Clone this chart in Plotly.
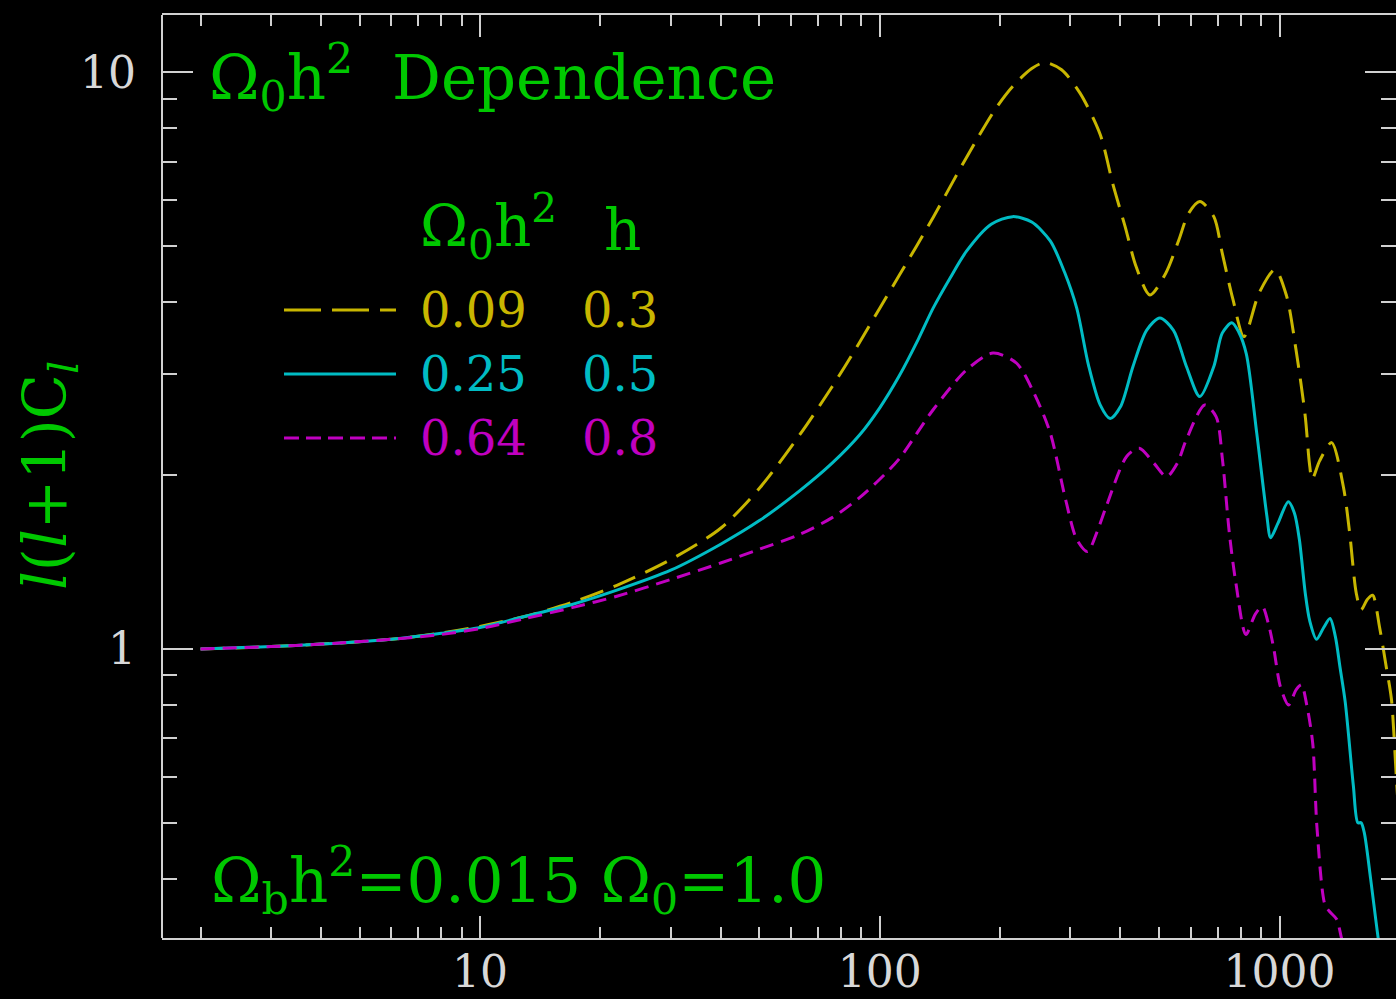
import plotly.graph_objects as go

# ---------------- data ----------------
l_yellow = [2, 3, 4, 6, 8, 10, 13, 17, 22, 30, 40, 50, 63, 76, 89, 100, 112, 136, 155, 174,
            195, 215, 240, 259, 285, 317, 356, 383, 411, 438, 474, 519, 560, 592, 632, 685,
            719, 764, 815, 890, 975, 1041, 1100, 1160, 1188, 1207, 1260, 1350, 1445, 1498,
            1556, 1600, 1660, 1710, 1780, 1850, 1905, 1960, 2000]
c_yellow = [1.0, 1.01, 1.02, 1.04, 1.066, 1.095, 1.14, 1.205, 1.29, 1.43, 1.62, 1.9, 2.35, 2.85,
            3.4, 3.9, 4.45, 5.6, 6.6, 7.6, 8.65, 9.45, 10.15, 10.4, 10.1, 9.2, 7.8, 6.4, 5.4,
            4.6, 4.11, 4.48, 5.12, 5.69, 5.97, 5.62, 4.86, 4.05, 3.48, 4.15, 4.55, 4.1, 3.3,
            2.53, 2.1, 1.97, 2.12, 2.28, 1.91, 1.59, 1.25, 1.17, 1.22, 1.24, 1.09, 0.93, 0.82,
            0.6, 0.48]

l_cyan = [2, 3, 4, 6, 8, 10, 13, 17, 22, 30, 40, 50, 63, 76, 89, 100, 112, 125, 136, 150, 165,
          190, 215, 240, 267, 290, 311, 333, 356, 377, 400, 430, 465, 502, 543, 585, 632, 685,
          719, 760, 790, 826, 877, 930, 950, 990, 1052, 1090, 1121, 1160, 1190, 1238, 1290,
          1338, 1380, 1417, 1460, 1530, 1570, 1600, 1630, 1690, 1766, 1800]
c_cyan = [1.0, 1.01, 1.02, 1.04, 1.065, 1.09, 1.14, 1.195, 1.265, 1.37, 1.52, 1.67, 1.88, 2.1,
          2.35, 2.62, 2.98, 3.45, 3.9, 4.4, 4.9, 5.45, 5.62, 5.5, 5.1, 4.5, 3.9, 3.1, 2.65,
          2.51, 2.63, 3.09, 3.57, 3.75, 3.57, 3.09, 2.74, 3.09, 3.53, 3.68, 3.55, 3.25, 2.37,
          1.70, 1.56, 1.65, 1.80, 1.72, 1.55, 1.25, 1.12, 1.04, 1.09, 1.13, 1.05, 0.93, 0.81,
          0.58, 0.50, 0.50, 0.48, 0.40, 0.315, 0.29]

l_magenta = [2, 3, 4, 6, 8, 10, 13, 17, 22, 30, 40, 50, 63, 76, 89, 100, 112, 136, 165, 192,
             220, 243, 267, 292, 311, 331, 350, 369, 415, 446, 485, 522, 555, 585, 650, 694,
             720, 749, 778, 824, 870, 906, 940, 968, 1005, 1054, 1100, 1135, 1170, 1211, 1241,
             1300, 1338, 1390, 1430, 1460]
c_magenta = [1.0, 1.01, 1.02, 1.04, 1.06, 1.085, 1.13, 1.18, 1.235, 1.32, 1.41, 1.49, 1.58,
             1.69, 1.83, 1.97, 2.14, 2.6, 3.05, 3.26, 3.13, 2.78, 2.37, 1.81, 1.55, 1.476, 1.6,
             1.77, 2.16, 2.23, 2.1, 1.99, 2.1, 2.31, 2.65, 2.53, 2.13, 1.59, 1.30, 1.06, 1.15,
             1.185, 1.1, 1.0, 0.861, 0.80, 0.85, 0.867, 0.80, 0.686, 0.49, 0.36, 0.35, 0.34,
             0.315, 0.30]

series_om = ["0.09", "0.25", "0.64"]
series_h = ["0.3", "0.5", "0.8"]

x_major = [10, 100, 1000]
x_major_text = ["10", "100", "1000"]
x_minor = [2, 3, 4, 5, 6, 7, 8, 9, 20, 30, 40, 50, 60, 70, 80, 90,
           200, 300, 400, 500, 600, 700, 800, 900]
y_major = [1, 10]
y_major_text = ["1", "10"]
y_minor = [0.4, 0.5, 0.6, 0.7, 0.8, 0.9, 2, 3, 4, 5, 6, 7, 8, 9]

# ---------------- styles ----------------
YEL = "#c8b600"
CYA = "#00bcc4"
MAG = "#c000c0"
GRN = "#00c800"
AXC = "#d0d0d0"
FONT = "DejaVu Serif"

W, H = 1396, 999
ML, MR, MT, MB = 162, 0, 15, 61
PW, PH = W - ML - MR, H - MT - MB


def px(x):
    return (x - ML) / PW


def py(y):
    return (H - MB - y) / PH


fig = go.Figure()
fig.add_trace(go.Scatter(x=l_yellow, y=c_yellow, mode="lines",
                         line=dict(color=YEL, width=3, dash="24px,11px", shape="spline", smoothing=0.8),
                         hoverinfo="skip", showlegend=False))
fig.add_trace(go.Scatter(x=l_cyan, y=c_cyan, mode="lines",
                         line=dict(color=CYA, width=3, shape="spline", smoothing=0.8),
                         hoverinfo="skip", showlegend=False))
fig.add_trace(go.Scatter(x=l_magenta, y=c_magenta, mode="lines",
                         line=dict(color=MAG, width=3, dash="14px,8px", shape="spline", smoothing=0.8),
                         hoverinfo="skip", showlegend=False))

fig.update_layout(
    width=W, height=H,
    margin=dict(l=ML, r=MR, t=MT, b=MB, pad=0),
    paper_bgcolor="black", plot_bgcolor="black",
    showlegend=False,
    xaxis=dict(type="log", range=[0.2045, 3 + (W - 1279.5) / 399.75],
               showgrid=False, zeroline=False,
               showline=True, linecolor=AXC, linewidth=2, mirror="ticks",
               ticks="inside", ticklen=22, tickwidth=2, tickcolor=AXC,
               tickmode="array", tickvals=x_major, ticktext=x_major_text,
               ticklabelstandoff=-6,
               tickfont=dict(family=FONT, size=44, color="#d8d8d8"),
               minor=dict(ticks="inside", ticklen=11, tickwidth=2, tickcolor=AXC,
                          tickmode="array", tickvals=x_minor, showgrid=False)),
    yaxis=dict(type="log", range=[-0.5009, 1.0993],
               showgrid=False, zeroline=False,
               showline=False, mirror="ticks",
               ticks="inside", ticklen=31, tickwidth=2, tickcolor=AXC,
               tickmode="array", tickvals=y_major, ticktext=y_major_text,
               ticklabelstandoff=25,
               tickfont=dict(family=FONT, size=44, color="#d8d8d8"),
               minor=dict(ticks="inside", ticklen=15, tickwidth=2, tickcolor=AXC,
                          tickmode="array", tickvals=y_minor, showgrid=False)),
)

# left axis line
fig.add_shape(type="line", xref="paper", yref="paper", x0=0, x1=0, y0=0, y1=1,
              line=dict(color=AXC, width=2))

# legend line samples
legend_rows_y = [310, 374, 438]
legend_styles = [(YEL, "37px,11px"), (CYA, "solid"), (MAG, "15px,7px")]
for yy, (col, dsh) in zip(legend_rows_y, legend_styles):
    fig.add_shape(type="line", xref="paper", yref="paper",
                  x0=px(284), x1=px(396), y0=py(yy), y1=py(yy),
                  line=dict(color=col, width=3, dash=dsh))


def ann(text, x, y, size, color, xanchor="left", yanchor="middle", angle=0):
    fig.add_annotation(text=text, xref="paper", yref="paper", x=px(x), y=py(y),
                       xanchor=xanchor, yanchor=yanchor, showarrow=False, textangle=angle,
                       font=dict(family=FONT, size=size, color=color))


ann("Ω<sub>0</sub>h<sup>2</sup>\u00a0 Dependence", 207, 77, 61, GRN)
ann("Ω<sub>0</sub>h<sup>2</sup>", 418, 227, 58, GRN)
ann("h", 602, 230, 58, GRN)
cols = [YEL, CYA, MAG]
for yy, om, hh, col in zip(legend_rows_y, series_om, series_h, cols):
    ann(om, 418, yy, 48, col)
    ann(hh, 580, yy, 48, col)
ann("Ω<sub>b</sub>h<sup>2</sup>=0.015 Ω<sub>0</sub>=1.0", 209, 880, 61, GRN)
ann("<i>l</i>(<i>l</i>+1)C<sub><i>l</i></sub>", 49, 476, 59, GRN,
    xanchor="center", yanchor="middle", angle=-90)

fig.write_html("out.html")
